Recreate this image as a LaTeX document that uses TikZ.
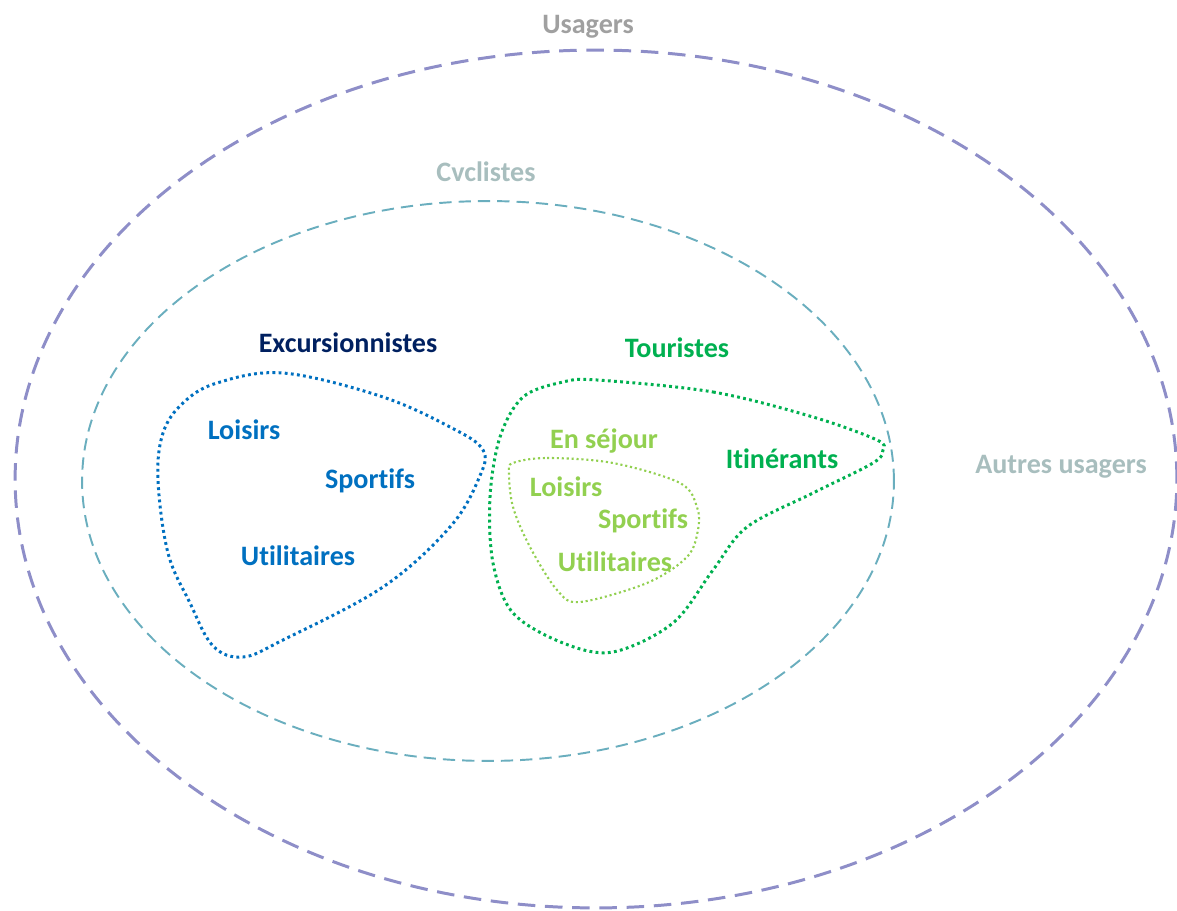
\documentclass[tikz,border=0pt]{standalone}
\usepackage{fontspec}
\setmainfont{Carlito}[Ligatures=NoCommon]
\usetikzlibrary{positioning}
\definecolor{usagergrey}{RGB}{160,160,160}
\definecolor{autregrey}{RGB}{168,190,190}
\definecolor{outerviolet}{RGB}{142,142,200}
\definecolor{cycleteal}{RGB}{106,174,190}
\definecolor{excnavy}{RGB}{0,32,96}
\definecolor{excblue}{RGB}{0,112,192}
\definecolor{tourgreen}{RGB}{0,176,80}
\definecolor{sejourgreen}{RGB}{146,208,80}

\tikzset{
  lbl/.style={font=\fontsize{16}{18}\selectfont\bfseries, inner sep=0pt},
  blob/.style={line width=1.7pt, dash pattern=on 1.6pt off 1.9pt}
}

\begin{document}
\begin{tikzpicture}[x=0.02cm, y=-0.02cm]
        \useasboundingbox (0,0) rectangle (1177,911);
        % users and cyclists
        \draw[outerviolet, line width=1.7pt, dash pattern=on 10pt off 5.5pt] (596,479) ellipse [x radius=11.62cm, y radius=8.58cm];
        \draw[cycleteal, line width=1.1pt, dash pattern=on 7pt off 4pt] (488,481) ellipse [x radius=8.12cm, y radius=5.6cm];
        
        \node[lbl, text=usagergrey] (usagers) at (588,27) {Usagers};
        \node[lbl, text=autregrey] (cyclistes) at (486,172) {Cvclistes};
        \node[lbl, text=autregrey] (autres) at (1061,467) {Autres usagers};
        
        % excursionnistes
        \draw[blob, excblue] plot[smooth cycle, tension=0.6] coordinates {(283,373) (380,396) (450,427) (483,450) (479,478) (450,527) (383,587) (283,640) (243,657) (213,646) (190,603) (168,553) (158,480) (163,433) (183,403) (217,383)};
        \node[lbl, text=excnavy] (excursionnistes) at (348,343) {Excursionnistes};
        \node[lbl, text=excblue] (excloisirs) at (244,430) {Loisirs};
        \node[lbl, text=excblue] (excsportifs) at (370,481) {Sportifs};
        \node[lbl, text=excblue] (excutilitaires) at (298,556) {Utilitaires};
        
        % touristes
        \draw[blob, tourgreen] plot[smooth cycle, tension=0.55] coordinates {(597,380) (713,392) (813,417) (877,440) (883,450) (873,463) (813,493) (747,527) (713,570) (673,623) (613,652) (563,643) (513,613) (493,563) (490,497) (500,437) (523,397) (563,382)};
        \draw[sejourgreen, line width=1.2pt, dash pattern=on 1.2pt off 1.6pt] plot[smooth cycle, tension=0.55] coordinates {(513,463) (547,458) (613,463) (680,483) (697,507) (698,530) (687,557) (647,583) (580,602) (557,590) (530,547) (513,507) (509,473)};
        \node[lbl, text=tourgreen] (touristes) at (677,348) {Touristes};
        \node[lbl, text=tourgreen] (itinerants) at (782,459) {Itinérants};
        \node[lbl, text=sejourgreen] (sejour) at (604,441) {En séjour};
        \node[lbl, text=sejourgreen] (sejloisirs) at (566,487) {Loisirs};
        \node[lbl, text=sejourgreen] (sejsportifs) at (643,521) {Sportifs};
        \node[lbl, text=sejourgreen] (sejutilitaires) at (615,562) {Utilitaires};
    \end{tikzpicture}
\end{document}
